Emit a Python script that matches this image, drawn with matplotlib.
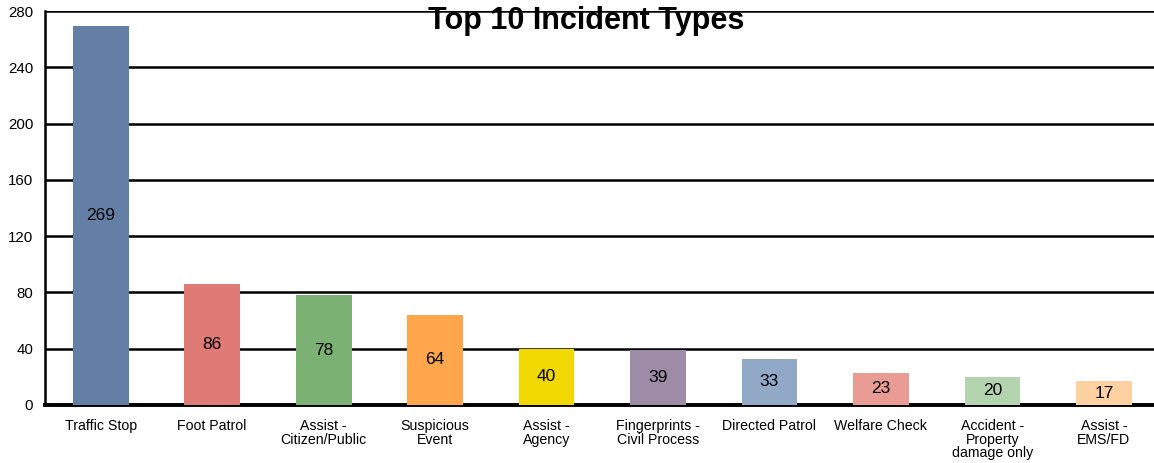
import matplotlib
matplotlib.use("Agg")
import matplotlib.pyplot as plt

categories = ["Traffic Stop", "Foot Patrol", "Assist -\nCitizen/Public", "Suspicious\nEvent",
              "Assist -\nAgency", "Fingerprints -\nCivil Process", "Directed Patrol",
              "Welfare Check", "Accident -\nProperty\ndamage only", "Assist -\nEMS/FD"]
values = [269, 86, 78, 64, 40, 39, 33, 23, 20, 17]
colors = ["#647FA6", "#E07A74", "#7BB274", "#FFA64D", "#F0D800", "#9E8CA6",
          "#92A8C7", "#E89C94", "#B3D4AE", "#FFD1A0"]
yticks = [0, 40, 80, 120, 160, 200, 240, 280]

plt.rcParams['font.family'] = ['Liberation Sans', 'DejaVu Sans']

fig = plt.figure(figsize=(11.54, 4.63), dpi=100)
ax = fig.add_axes([45/1154, 1 - 405/463, 1 - 45/1154, (405 - 11)/463])

x = list(range(len(values)))
ax.set_axisbelow(True)
ax.yaxis.grid(True, color="black", linewidth=1.8)
bars = ax.bar(x, values, width=0.5, color=colors, zorder=3)
for xi, v in zip(x, values):
    ax.text(xi, v / 2, str(v), ha="center", va="center", fontsize=12.5, zorder=4)

ax.set_xlim(-0.5, 9.45)
ax.set_ylim(0, 280)
ax.set_yticks(yticks)
ax.set_xticks(x)
ax.set_xticklabels(categories, fontsize=10.2, linespacing=0.98)
ax.tick_params(axis="y", labelsize=10.8, length=0, pad=8.5)
ax.tick_params(axis="x", length=0, pad=10)
for lab in ax.get_xticklabels():
    lab.set_verticalalignment("top")

ax.spines["right"].set_visible(False)
ax.spines["top"].set_visible(False)
ax.spines["left"].set_linewidth(1.8)
ax.spines["bottom"].set_linewidth(2.8)

fig.text(586/1154, 1 - 21/463, "Top 10 Incident Types", ha="center", va="center",
         fontsize=22, fontweight="bold")

fig.savefig("out.png", dpi=100)
